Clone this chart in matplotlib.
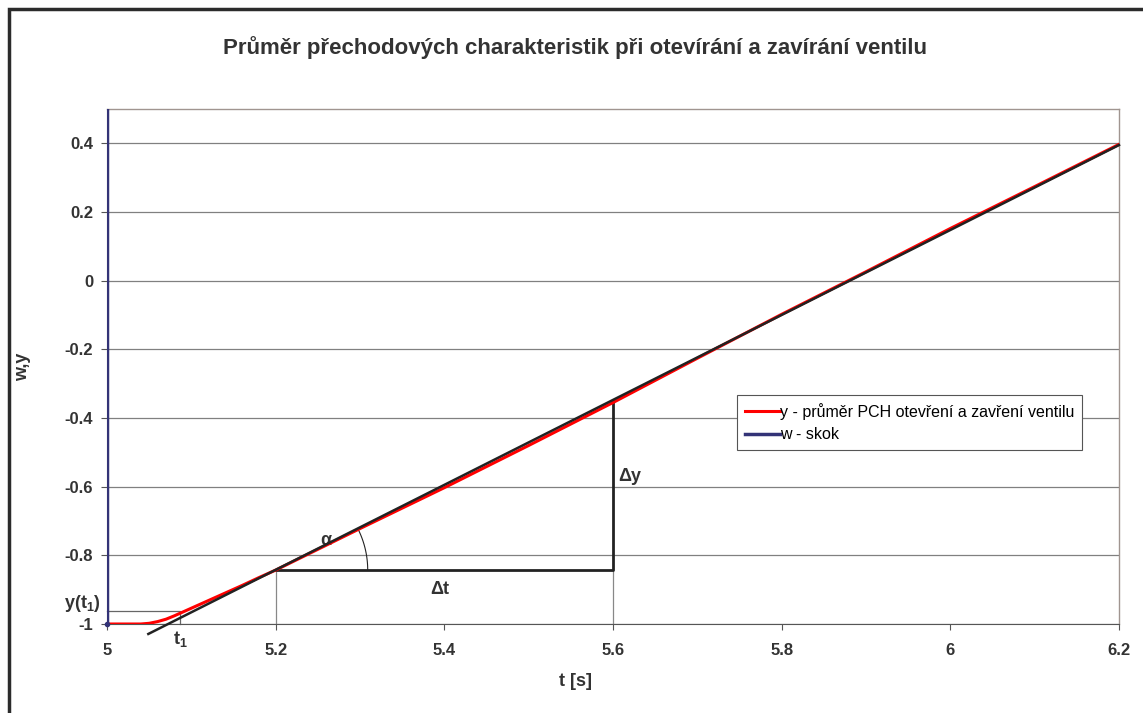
import numpy as np
import matplotlib
matplotlib.use('Agg')
import matplotlib.pyplot as plt
from matplotlib.patches import Rectangle

plt.rcParams['font.family'] = ['Liberation Sans', 'DejaVu Sans']
plt.rcParams['mathtext.fontset'] = 'custom'
plt.rcParams['mathtext.bf'] = 'Liberation Sans:bold'
plt.rcParams['mathtext.rm'] = 'Liberation Sans'

# averaged step response (red) and the input step (navy)
t_y = [5.0, 5.04, 5.05, 5.06, 5.07, 5.08, 5.09, 5.1, 5.12, 5.14, 5.16, 5.18, 5.2,
       5.3, 5.4, 5.5, 5.6, 5.7, 5.8, 5.9, 6.0, 6.1, 6.2]
y_avg = [-1.0, -1.0, -0.998, -0.993, -0.986, -0.976, -0.965, -0.954, -0.932, -0.91,
         -0.888, -0.865, -0.843, -0.722, -0.603, -0.48, -0.355, -0.226,
         -0.098, 0.026, 0.152, 0.274, 0.397]
t_w = [5.0, 5.0]
w_step = [-1.0, 1.0]

# tangent at the inflection point
tan_t = [5.049, 6.2]
tan_y = [-1.029, 0.395]

# construction points
t1 = 5.087
y_t1 = -0.962
dt_start, dt_end = 5.2, 5.6
dy_low, dy_high = -0.843, -0.348

xticks = [5, 5.2, 5.4, 5.6, 5.8, 6, 6.2]
yticks = [-1, -0.8, -0.6, -0.4, -0.2, 0, 0.2, 0.4]

TXT = '#333333'

fig = plt.figure(figsize=(11.43, 7.13), dpi=100)
fig.patches.append(Rectangle((9 / 1143, -0.1), 1.2, (713 - 9) / 713 + 0.1,
                             transform=fig.transFigure, fill=False,
                             edgecolor='#2b2b2b', lw=2.5))

ax = fig.add_axes([107 / 1143, 89 / 713, 1012 / 1143, 515 / 713])
ax.set_xlim(5, 6.2)
ax.set_ylim(-1, 0.5)
ax.set_xticks(xticks)
ax.set_xticklabels(['5', '5.2', '5.4', '5.6', '5.8', '6', '6.2'])
ax.set_yticks(yticks)
ax.set_yticklabels(['-1', '-0.8', '-0.6', '-0.4', '-0.2', '0', '0.2', '0.4'])
ax.tick_params(axis='both', direction='out', length=4, width=0.8, color='#555555',
               labelsize=12, pad=6)
for lab in ax.get_xticklabels() + ax.get_yticklabels():
    lab.set_fontweight('bold')
    lab.set_color(TXT)
ax.xaxis.set_tick_params(pad=10)

ax.grid(axis='y', color='#808080', lw=0.9)
for side in ['top', 'right']:
    ax.spines[side].set_color('#a09590')
    ax.spines[side].set_linewidth(1.0)
ax.spines['bottom'].set_color('#555555')
ax.spines['left'].set_color('#555555')

# construction helper lines
ax.plot([5, t1, t1], [y_t1, y_t1, -1], color='#666666', lw=0.9, clip_on=False)
ax.plot([dt_start, dt_start], [-1, dy_low], color='#888888', lw=0.9)
ax.plot([dt_end, dt_end], [-1, dy_low], color='#888888', lw=0.9)
ax.plot([dt_start, dt_end, dt_end], [dy_low, dy_low, dy_high], color='#222222', lw=2.0)

# angle arc alpha
slope_ang = np.arctan((tan_y[1] - tan_y[0]) / (tan_t[1] - tan_t[0]) * 343.5 / 843)
ang = np.linspace(0, slope_ang, 40)
r_px = 92
ax.plot(dt_start + r_px / 843 * np.cos(ang), dy_low + r_px / 343.5 * np.sin(ang),
        color='#222222', lw=0.8)

ax.plot(t_y, y_avg, color='#ff0000', lw=2.2, label='y - průměr PCH otevření a zavření ventilu',
        zorder=4)
ax.plot(tan_t, tan_y, color='#222222', lw=1.8, zorder=5, clip_on=False)
ax.plot(t_w, w_step, color='#333377', lw=2.5, label='w - skok', zorder=6)
ax.plot([5], [-1], 'o', color='#333377', ms=3, zorder=7, clip_on=False)

ax.text(5.259, -0.758, 'α', fontsize=13, fontweight='bold', color=TXT,
        ha='center', va='center')
ax.text(5.606, -0.569, 'Δy', fontsize=13, fontweight='bold', color=TXT,
        ha='left', va='center')
ax.text(5.395, -0.9, 'Δt', fontsize=13, fontweight='bold', color=TXT,
        ha='center', va='center')
ax.text(5.087, -1.045, r'$\mathbf{t_1}$', fontsize=13, color=TXT,
        ha='center', va='center', clip_on=False)
ax.text(-0.006, -0.94, r'$\mathbf{y(t_1)}$', fontsize=13, color=TXT,
        ha='right', va='center', transform=ax.get_yaxis_transform(), clip_on=False)

leg = ax.legend(loc='upper left', bbox_to_anchor=(737 / 1143, (713 - 395) / 713),
                bbox_transform=fig.transFigure, fontsize=11.5, frameon=True,
                fancybox=False, handlelength=2.2, handletextpad=0.0,
                borderpad=0.5, labelspacing=0.45, borderaxespad=0, framealpha=1)
leg.get_frame().set_edgecolor('#555555')
leg.get_frame().set_linewidth(0.8)

ax.set_xlabel('t [s]', fontsize=13, fontweight='bold', color=TXT)
ax.xaxis.set_label_coords(0.463, -0.095)
ax.set_ylabel('w,y', fontsize=13, fontweight='bold', color=TXT)
ax.yaxis.set_label_coords(-0.075, 0.5)

fig.text(0.503, 0.934, 'Průměr přechodových charakteristik při otevírání a zavírání ventilu',
         ha='center', va='center', fontsize=16, fontweight='bold', color=TXT)

fig.savefig('out.png', dpi=100)
